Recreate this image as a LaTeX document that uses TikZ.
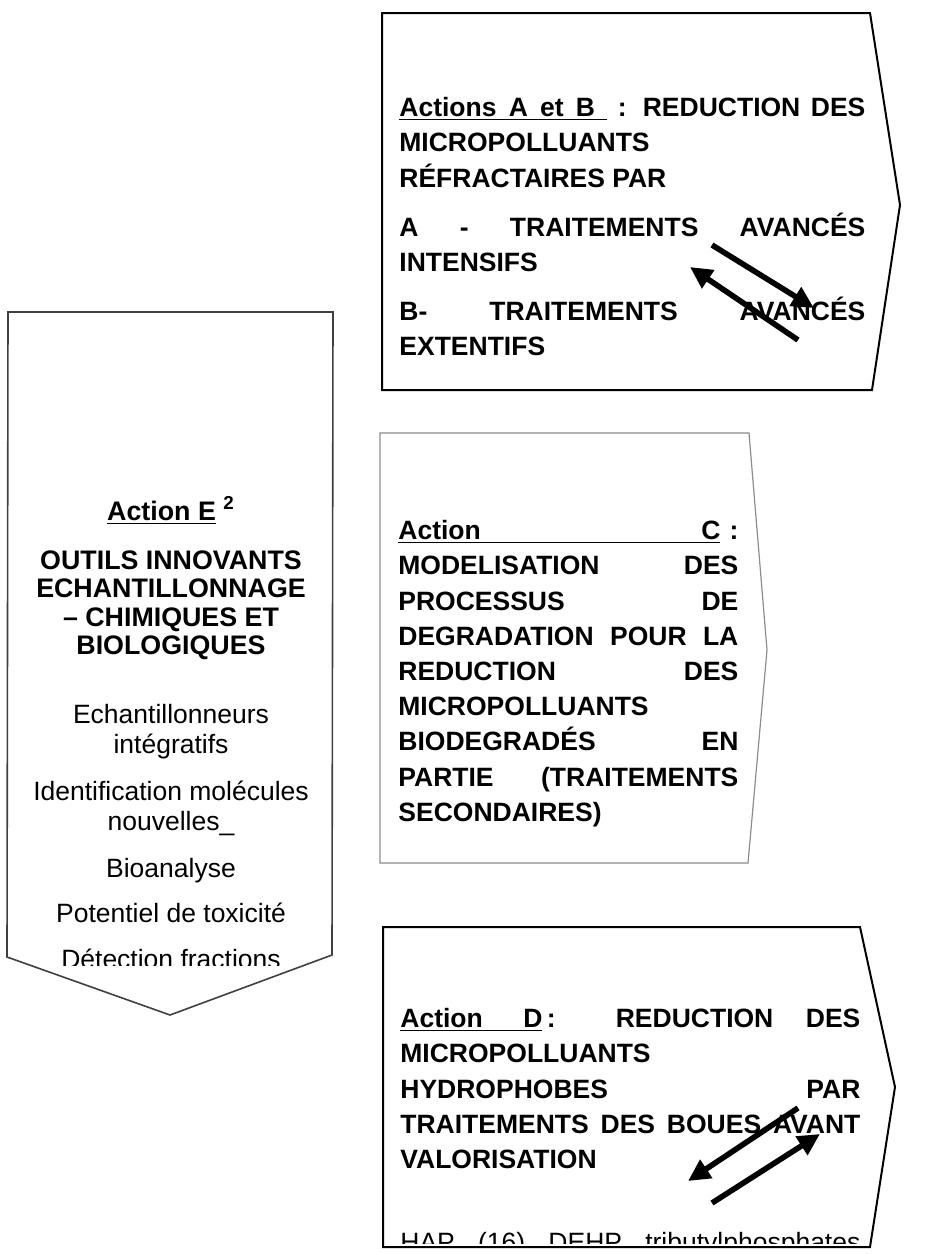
\documentclass[tikz,border=0pt]{standalone}
\usepackage{fontspec}
\setmainfont{Liberation Sans}
\usepackage{xcolor}
\usepackage{tikz}
\usetikzlibrary{arrows.meta,positioning,calc}

\begin{document}
\begin{tikzpicture}[
  x=0.5pt, y=-0.5pt,
  panel/.style={line width=1pt, draw=black, line join=miter},
  bigtxt/.style={inner sep=0pt, anchor=north west, align=justify,
                 font=\fontsize{13.25}{17.6}\selectfont\bfseries},
  titletxt/.style={inner sep=0pt, align=center, font=\fontsize{13.4}{14.3}\selectfont\bfseries},
  smalltxt/.style={inner sep=0pt, align=center, font=\fontsize{13.25}{15}\selectfont},
  flow/.style={-{Triangle[length=11pt,width=10.5pt]}, line width=2.8pt},
]
  \useasboundingbox (0,0) rectangle (947,1254);

  % Arrow-shaped panels
  \draw[panel, draw=black!75, line width=0.8pt]
    (8,312) -- (333,312) -- (332,955) -- (170,1015) -- (7,957) -- cycle;
  \draw[panel] (382,13) -- (870,13) -- (900,205) -- (872,390) -- (382,390) -- cycle;
  \draw[panel, draw=black!45, line width=0.6pt]
    (380,433) -- (749,433) -- (767,650) -- (748,863) -- (380,863) -- cycle;
  \draw[panel] (383,927) -- (860,927) -- (895,1087) -- (870,1247) -- (383,1247) -- cycle;

  % Action E
  \node[titletxt, anchor=base] (acte) at (171,520) {\underline{Action E}~\textsuperscript{2}};
  \node[titletxt, anchor=north] (outils) at (171,550)
    {OUTILS INNOVANTS\\ECHANTILLONNAGE\\– CHIMIQUES ET\\BIOLOGIQUES};
  \node[smalltxt, anchor=north] (echant) at (171,704) {Echantillonneurs\\intégratifs};
  \node[smalltxt, anchor=north] (ident) at (171,781) {Identification molécules\\nouvelles\_};
  \node[smalltxt, anchor=base] (bioan) at (171,877) {Bioanalyse};
  \node[smalltxt, anchor=base] (toxic) at (171,922) {Potentiel de toxicité};
  \begin{scope}
    \clip (0,0) rectangle (947,965);
    \node[smalltxt, anchor=base] (fract) at (171,968) {Détection fractions};
  \end{scope}

  % Actions A et B
  \node[bigtxt, text width=233pt] (actab) at (399,97)
    {\underline{\makebox[104pt][s]{Actions A et B\ }}~: REDUCTION DES\linebreak
     MICROPOLLUANTS\\
     RÉFRACTAIRES PAR\\[7pt]
     A - TRAITEMENTS AVANCÉS\linebreak INTENSIFS\\[7pt]
     B- TRAITEMENTS AVANCÉS\linebreak EXTENTIFS};

  % Action C
  \node[bigtxt, text width=170pt] (actc) at (398,520)
    {\underline{\makebox[161pt][s]{Action C}}~:\linebreak
     MODELISATION DES\linebreak PROCESSUS DE\linebreak
     DEGRADATION POUR LA\linebreak REDUCTION DES\linebreak
     MICROPOLLUANTS\\
     BIODEGRADÉS EN\linebreak PARTIE (TRAITEMENTS\linebreak SECONDAIRES)};

  % Action D
  \node[bigtxt, text width=230pt] (actd) at (400,1008)
    {\underline{\makebox[71pt][s]{Action D}}\,: REDUCTION DES\linebreak
     MICROPOLLUANTS\\
     HYDROPHOBES PAR\linebreak
     TRAITEMENTS DES BOUES AVANT\linebreak
     VALORISATION};
  \begin{scope}
    \clip (383,927) rectangle (870,1243);
    \node[smalltxt, anchor=base west] (hap) at (400,1251)
      {\makebox[230pt][s]{HAP (16) DEHP tributylphosphates}};
  \end{scope}

  % Exchange arrows
  \coordinate (ab1s) at (712,245); \coordinate (ab1e) at (814,308);
  \coordinate (ab2s) at (798,340); \coordinate (ab2e) at (690,267);
  \coordinate (d1s) at (798,1108); \coordinate (d1e) at (688,1181);
  \coordinate (d2s) at (712,1203); \coordinate (d2e) at (820,1134);
  \draw[flow] (ab1s) -- (ab1e);
  \draw[flow] (ab2s) -- (ab2e);
  \draw[flow] (d1s) -- (d1e);
  \draw[flow] (d2s) -- (d2e);
\end{tikzpicture}
\end{document}
